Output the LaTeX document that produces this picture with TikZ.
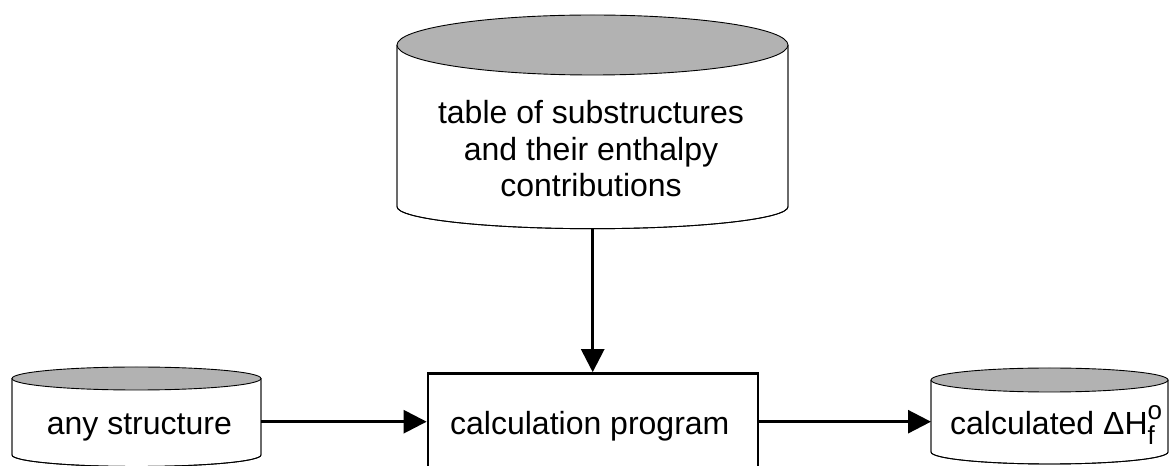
\documentclass[tikz,border=0pt]{standalone}
\usepackage{fontspec}
\setmainfont{Liberation Sans}
\usetikzlibrary{arrows.meta}
\definecolor{capgray}{RGB}{178,178,178}
\newcommand{\dbcyl}[6]{% cx, topY, botY, rx, ry top, ry bottom
  \path[cylline,fill=white] (#1-#4,#2) -- (#1-#4,#3)
     arc[start angle=180,end angle=360,x radius=#4,y radius=#6] -- (#1+#4,#2);
  \draw[cylline] (#1-#4,#2) -- (#1-#4,#3)
     arc[start angle=180,end angle=360,x radius=#4,y radius=#6] -- (#1+#4,#2);
  \draw[cylline,fill=capgray] (#1,#2) ellipse[x radius=#4,y radius=#5];
}
\tikzset{
  cylline/.style={draw=black,line width=0.9pt},
  flow/.style={line width=2.7pt,-{Triangle[length=23pt,width=23pt]}},
  txt/.style={inner sep=0pt,font=\fontsize{32}{36.5}\selectfont},
  progbox/.style={draw=black,line width=2.7pt,fill=white,minimum width=330pt,minimum height=140pt,inner sep=0pt}
}
\begin{document}
\begin{tikzpicture}[x=1pt,y=1pt]
\useasboundingbox (0,0) rectangle (1171,466);
\clip (0,0) rectangle (1171,466);
% top database
\dbcyl{592.5}{421}{259.3}{195.5}{30}{22}
\node[txt,align=center] (table) at (591,317) {table of substructures\\and their enthalpy\\contributions};
\coordinate (tablebot) at (592.7,237);
% left database
\dbcyl{136.5}{87.5}{11}{124.5}{11.5}{11.5}
\node[txt,anchor=base west] (anyst) at (46.7,31) {any structure};
\coordinate (anyright) at (261,44.3);
% program box
\node[progbox] (prog) at (593,22.5) {};
\node[txt,anchor=base west] (progtext) at (450,31) {calculation program};
% right database
\dbcyl{1049.5}{86}{14}{118.5}{12}{12}
\node[txt,anchor=base west] (result) at (950,31) {calculated ΔH\rlap{\raisebox{15pt}{\fontsize{26}{26}\selectfont o}}\raisebox{-10pt}{\fontsize{26}{26}\selectfont f}};
\coordinate (resleft) at (931,44.3);
% connectors
\draw[flow] (tablebot) -- (tablebot |- prog.north);
\draw[flow] (anyright) -- (anyright -| prog.west);
\draw[flow] (anyright -| prog.east) -- (resleft);
\end{tikzpicture}
\end{document}
